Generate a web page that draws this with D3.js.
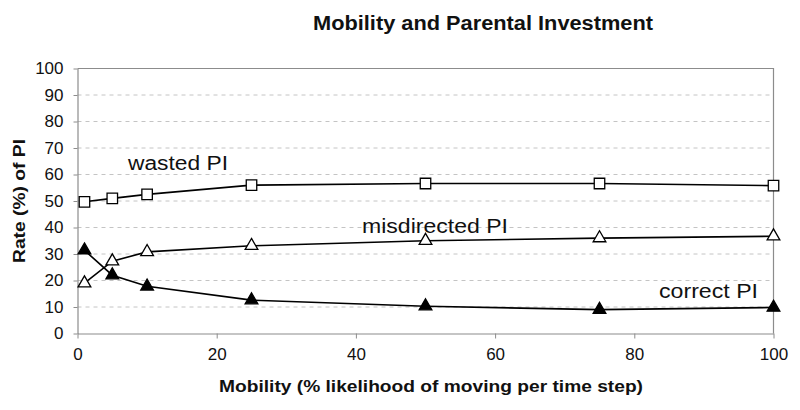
<!DOCTYPE html>
<html>
<head>
<meta charset="utf-8">
<script src="https://cdn.jsdelivr.net/npm/d3@7"></script>
<style>
  html, body { margin: 0; padding: 0; background: #fff; }
  svg { display: block; font-family: "Liberation Sans", Arial, sans-serif; }
</style>
</head>
<body>
<svg id="chart" width="800" height="410"></svg>
<script>
// ---- data ----
const mobility = [1, 5, 10, 25, 50, 75, 100];
const wastedPI = [49.7, 51, 52.5, 56, 56.6, 56.6, 55.8];
const misdirectedPI = [19, 27.3, 30.8, 33.1, 35, 36, 36.7];
const correctPI = [31.4, 22, 17.8, 12.6, 10.3, 9, 9.8];
const xTicks = [0, 20, 40, 60, 80, 100];
const yTicks = [0, 10, 20, 30, 40, 50, 60, 70, 80, 90, 100];
const titleText = "Mobility and Parental Investment";
const xTitle = "Mobility (% likelihood of moving per time step)";
const yTitle = "Rate (%) of PI";
const seriesNames = ["wasted PI", "misdirected PI", "correct PI"];

// ---- layout ----
const svg = d3.select("#chart");
const x = d3.scaleLinear().domain([0, 100]).range([77.5, 773.5]);
const y = d3.scaleLinear().domain([0, 100]).range([333.5, 68.5]);
const gray = "#8c8c8c";

// gridlines (dashed)
svg.append("g").selectAll("line")
  .data(yTicks.filter(d => d > 0 && d < 100))
  .join("line")
  .attr("x1", x(0)).attr("x2", x(100))
  .attr("y1", d => y(d)).attr("y2", d => y(d))
  .attr("stroke", "#c4c4c4").attr("stroke-width", 1)
  .attr("stroke-dasharray", "4,4");

// plot border (top and right)
svg.append("path")
  .attr("d", `M${x(0)},${y(100)}H${x(100)}V${y(0)}`)
  .attr("fill", "none").attr("stroke", gray).attr("stroke-width", 1.2);

// axes
const xAxis = svg.append("g")
  .attr("transform", `translate(0,${y(0)})`)
  .call(d3.axisBottom(x).tickValues(xTicks).tickSize(5).tickPadding(9).tickSizeOuter(0));
const yAxis = svg.append("g")
  .attr("transform", `translate(${x(0)},0)`)
  .call(d3.axisLeft(y).tickValues(yTicks).tickSize(4).tickPadding(10).tickSizeOuter(0));
[xAxis, yAxis].forEach(a => {
  a.select(".domain").attr("stroke", gray).attr("stroke-width", 1.2);
  a.selectAll(".tick line").attr("stroke", gray);
  a.selectAll(".tick text").attr("font-size", 17).attr("fill", "#111")
    .attr("font-family", "'Liberation Sans', Arial, sans-serif");
});

// lines + markers
const line = d3.line().x(d => x(d[0])).y(d => y(d[1]));
const series = [
  { vals: wastedPI, marker: "square", fill: "#fff" },
  { vals: misdirectedPI, marker: "triangle", fill: "#fff" },
  { vals: correctPI, marker: "triangle", fill: "#000" }
];
series.forEach(s => {
  const pts = mobility.map((m, i) => [m, s.vals[i]]);
  svg.append("path").datum(pts)
    .attr("d", line).attr("fill", "none")
    .attr("stroke", "#000").attr("stroke-width", 1.6);
  const sym = s.marker === "square"
    ? d3.symbol().type(d3.symbolSquare).size(110)
    : d3.symbol().type(d3.symbolTriangle).size(70);
  svg.append("g").selectAll("path")
    .data(pts).join("path")
    .attr("transform", d => `translate(${x(d[0])},${y(d[1])})`)
    .attr("d", sym)
    .attr("fill", s.fill).attr("stroke", "#000").attr("stroke-width", 1.3);
});

// series labels
const labelPos = [
  { x: 128, y: 170, w: 100 },
  { x: 362, y: 233, w: 146 },
  { x: 659, y: 298, w: 99 }
];
seriesNames.forEach((n, i) => {
  svg.append("text")
    .attr("x", labelPos[i].x).attr("y", labelPos[i].y)
    .attr("font-size", 20).attr("fill", "#111")
    .attr("textLength", labelPos[i].w).attr("lengthAdjust", "spacingAndGlyphs")
    .text(n);
});

// title
svg.append("text")
  .attr("x", 313).attr("y", 30)
  .attr("font-size", 20).attr("font-weight", "bold").attr("fill", "#111")
  .attr("textLength", 340).attr("lengthAdjust", "spacingAndGlyphs")
  .text(titleText);

// x axis title
svg.append("text")
  .attr("x", 219).attr("y", 392)
  .attr("font-size", 17).attr("font-weight", "bold").attr("fill", "#111")
  .attr("textLength", 424).attr("lengthAdjust", "spacingAndGlyphs")
  .text(xTitle);

// y axis title
svg.append("text")
  .attr("transform", `translate(25,${(y(0) + y(100)) / 2 + 62}) rotate(-90)`)
  .attr("font-size", 17).attr("font-weight", "bold").attr("fill", "#111")
  .attr("textLength", 124).attr("lengthAdjust", "spacingAndGlyphs")
  .text(yTitle);
</script>
</body>
</html>
